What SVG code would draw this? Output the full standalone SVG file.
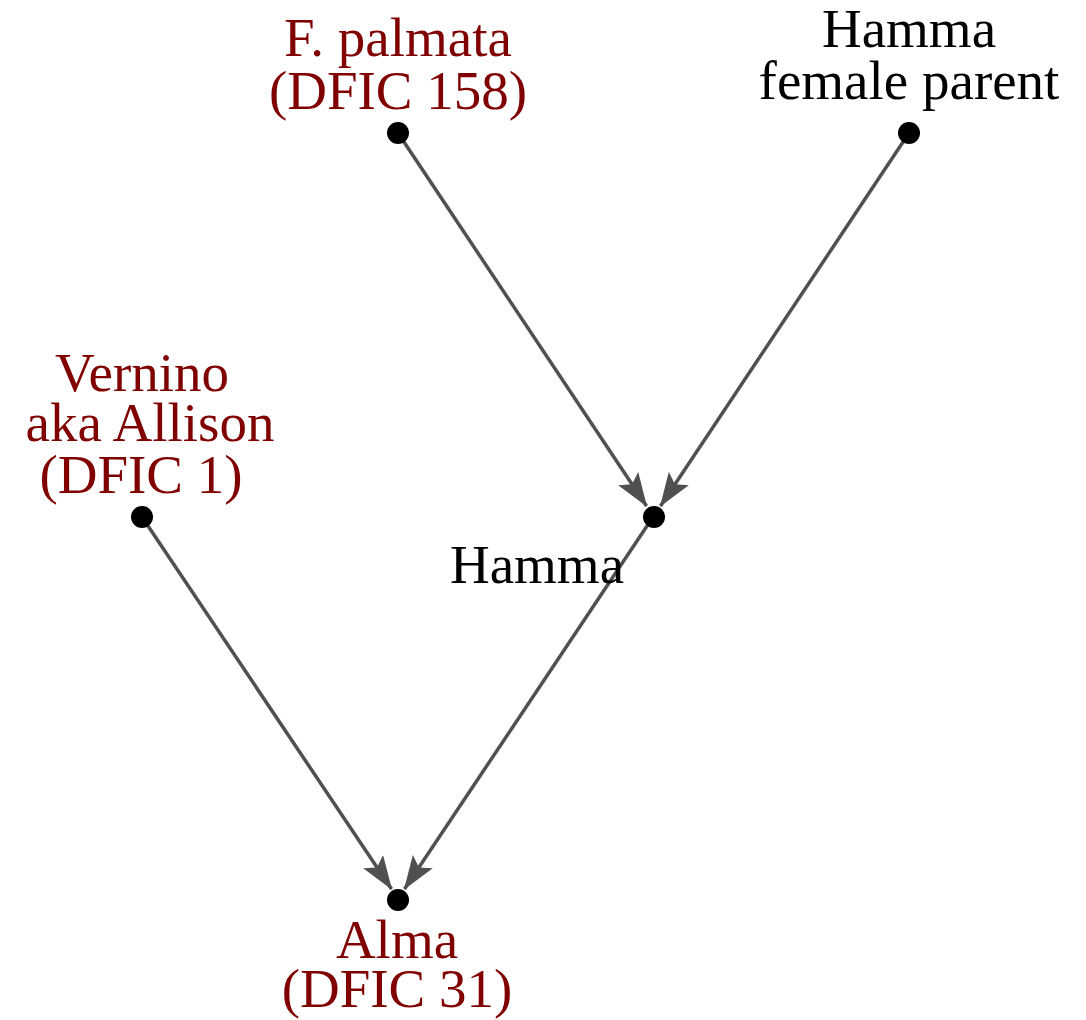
<svg xmlns="http://www.w3.org/2000/svg" width="1086" height="1020" viewBox="0 0 1086 1020">
<style>
text{font-family:"Liberation Serif","Times New Roman",serif;font-size:55px;text-anchor:middle}
.red{fill:#800000}
.blk{fill:#000}
.edge{stroke:#505050;stroke-width:3.5;fill:none;marker-end:url(#arr)}
.dot{fill:#000}
</style>
<defs>
<marker id="arr" viewBox="0 0 34 24" refX="33" refY="12" markerWidth="34" markerHeight="24" markerUnits="userSpaceOnUse" orient="auto">
<path d="M0,0 L34,12 L0,24 L7,12 Z" fill="#505050"/>
</marker>
</defs>
<rect width="1086" height="1020" fill="#fff"/>
<g id="connectors">
<path class="edge" d="M398,133 L646.5,506"/>
<path class="edge" d="M909,133 L660.5,506"/>
<path class="edge" d="M142,517 L391.5,889"/>
<path class="edge" d="M653,517 L404.5,889"/>
</g>
<g id="n-palmata">
<circle class="dot" cx="398" cy="133" r="11"/>
<text class="red" x="398" y="56">F. palmata</text>
<text class="red" x="398" y="109">(DFIC 158)</text>
</g>
<g id="n-female">
<circle class="dot" cx="909" cy="133" r="11"/>
<text class="blk" x="909" y="47">Hamma</text>
<text class="blk" x="909" y="99">female parent</text>
</g>
<g id="n-vernino">
<circle class="dot" cx="142" cy="517" r="11"/>
<text class="red" x="142" y="391">Vernino</text>
<text class="red" x="150" y="441">aka Allison</text>
<text class="red" x="141" y="493">(DFIC 1)</text>
</g>
<g id="n-hamma">
<circle class="dot" cx="654" cy="517" r="11"/>
<text class="blk" x="537" y="583">Hamma</text>
</g>
<g id="n-alma">
<circle class="dot" cx="398" cy="900" r="11"/>
<text class="red" x="397" y="958">Alma</text>
<text class="red" x="397" y="1007">(DFIC 31)</text>
</g>
</svg>
